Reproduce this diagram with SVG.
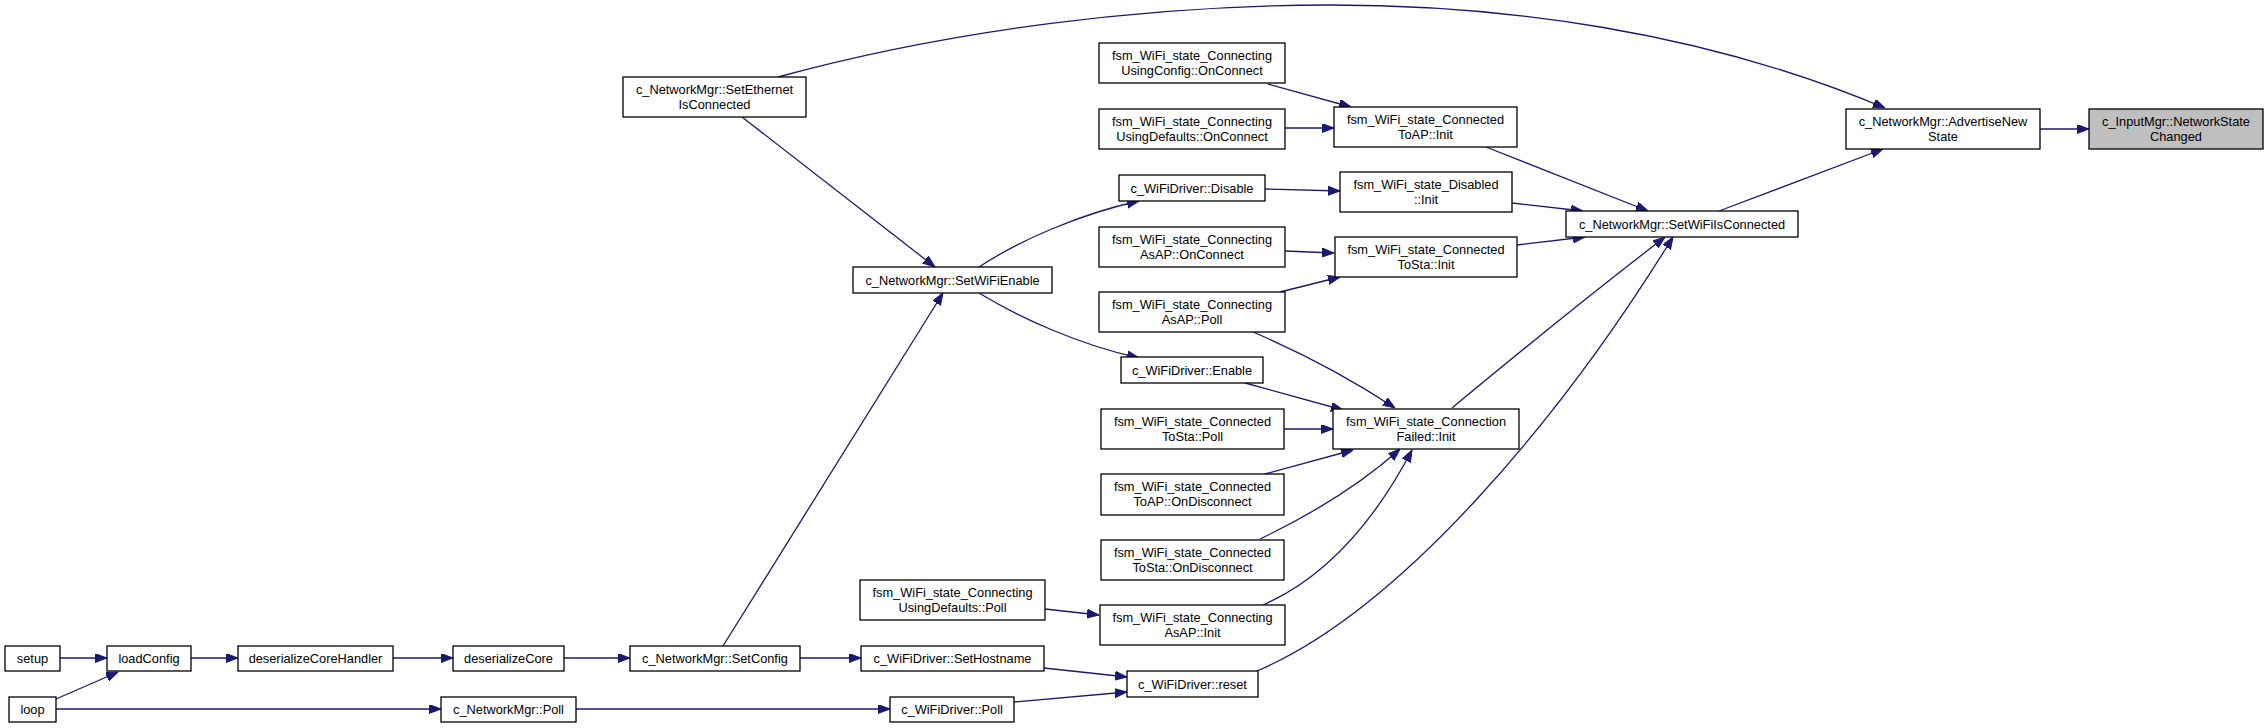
<svg xmlns="http://www.w3.org/2000/svg" width="2268" height="728" viewBox="0 0 2268 728">
<style>
.n rect{fill:#fff;stroke:#000;stroke-width:1.3}
.r rect{fill:#bfbfbf}
text{font-family:"Liberation Sans",Arial,Helvetica,sans-serif;font-size:12.8px;fill:#000;text-anchor:middle}
.e path{fill:none;stroke:#191970;stroke-width:1.3;marker-end:url(#ah)}
</style>
<defs>
<marker id="ah" markerWidth="12" markerHeight="10" refX="12" refY="4.5" orient="auto" markerUnits="userSpaceOnUse">
<path d="M0,0 L12,4.5 L0,9 z" fill="#191970" stroke="#191970" stroke-width="1"/>
</marker>
</defs>
<rect width="2268" height="728" fill="#fff"/>
<g id="edges" class="e">
<path d="M2040,129 L2089,129"/>
<path d="M778,77 C950,30 1150,5 1330,5 C1500,5 1700,30 1885,108"/>
<path d="M1719,211 L1883,149"/>
<path d="M1486,147 L1648,211"/>
<path d="M1512,203 L1583,211"/>
<path d="M1517,245 L1585,237"/>
<path d="M1452,408 Q1570,310 1665,237"/>
<path d="M1257,671 C1400,610 1560,420 1673,237"/>
<path d="M1268,84 L1351,107"/>
<path d="M1285,128 L1334,128"/>
<path d="M1265,189 L1340,191"/>
<path d="M1285,251 L1334,253"/>
<path d="M1280,292 L1340,277"/>
<path d="M1253,332 Q1330,365 1395,408"/>
<path d="M1245,383 L1343,410"/>
<path d="M1284,429 L1333,429"/>
<path d="M1265,474 L1353,450"/>
<path d="M1260,539 C1310,515 1360,485 1400,449"/>
<path d="M1263,605 C1320,580 1370,530 1412,450"/>
<path d="M1045,609 L1099,615"/>
<path d="M742,117 L935,267"/>
<path d="M979,267 C1020,240 1080,214 1139,201"/>
<path d="M979,293 C1020,318 1080,345 1139,358"/>
<path d="M723,646 L943,293"/>
<path d="M800,658 L861,658"/>
<path d="M1044,668 L1127,677"/>
<path d="M1014,702 L1127,692"/>
<path d="M576,709 L890,709"/>
<path d="M56,709 L441,709"/>
<path d="M56,699 L118,672"/>
<path d="M60,658 L107,658"/>
<path d="M191,658 L238,658"/>
<path d="M393,658 L453,658"/>
<path d="M564,658 L630,658"/>
</g>
<g id="n_root" class="n r"><rect x="2089" y="109" width="174" height="40"/><text x="2176" y="125.5">c_InputMgr::NetworkState</text><text x="2176" y="140.5">Changed</text></g>
<g id="n_advertise" class="n"><rect x="1846" y="109" width="194" height="40"/><text x="1943" y="125.5">c_NetworkMgr::AdvertiseNew</text><text x="1943" y="140.5">State</text></g>
<g id="n_setwifiisconnected" class="n"><rect x="1566" y="211" width="232" height="26"/><text x="1682" y="228.5">c_NetworkMgr::SetWiFiIsConnected</text></g>
<g id="n_setethernet" class="n"><rect x="623" y="77" width="183" height="40"/><text x="714.5" y="93.5">c_NetworkMgr::SetEthernet</text><text x="714.5" y="108.5">IsConnected</text></g>
<g id="n_usingconfig_onconnect" class="n"><rect x="1099" y="43" width="186" height="40"/><text x="1192" y="59.5">fsm_WiFi_state_Connecting</text><text x="1192" y="74.5">UsingConfig::OnConnect</text></g>
<g id="n_usingdefaults_onconnect" class="n"><rect x="1099" y="109" width="186" height="40"/><text x="1192" y="125.5">fsm_WiFi_state_Connecting</text><text x="1192" y="140.5">UsingDefaults::OnConnect</text></g>
<g id="n_toap_init" class="n"><rect x="1334" y="107" width="183" height="40"/><text x="1425.5" y="123.5">fsm_WiFi_state_Connected</text><text x="1425.5" y="138.5">ToAP::Init</text></g>
<g id="n_disabled_init" class="n"><rect x="1340" y="172" width="172" height="40"/><text x="1426" y="188.5">fsm_WiFi_state_Disabled</text><text x="1426" y="203.5">::Init</text></g>
<g id="n_disable" class="n"><rect x="1119" y="175" width="146" height="26"/><text x="1192" y="192.5">c_WiFiDriver::Disable</text></g>
<g id="n_asap_onconnect" class="n"><rect x="1099" y="227" width="186" height="40"/><text x="1192" y="243.5">fsm_WiFi_state_Connecting</text><text x="1192" y="258.5">AsAP::OnConnect</text></g>
<g id="n_tosta_init" class="n"><rect x="1335" y="237" width="182" height="40"/><text x="1426" y="253.5">fsm_WiFi_state_Connected</text><text x="1426" y="268.5">ToSta::Init</text></g>
<g id="n_setwifienable" class="n"><rect x="853" y="267" width="199" height="26"/><text x="952.5" y="284.5">c_NetworkMgr::SetWiFiEnable</text></g>
<g id="n_asap_poll" class="n"><rect x="1099" y="292" width="186" height="40"/><text x="1192" y="308.5">fsm_WiFi_state_Connecting</text><text x="1192" y="323.5">AsAP::Poll</text></g>
<g id="n_enable" class="n"><rect x="1121" y="357" width="142" height="26"/><text x="1192" y="374.5">c_WiFiDriver::Enable</text></g>
<g id="n_connfailed_init" class="n"><rect x="1333" y="409" width="186" height="40"/><text x="1426" y="425.5">fsm_WiFi_state_Connection</text><text x="1426" y="440.5">Failed::Init</text></g>
<g id="n_tosta_poll" class="n"><rect x="1101" y="409" width="183" height="40"/><text x="1192.5" y="425.5">fsm_WiFi_state_Connected</text><text x="1192.5" y="440.5">ToSta::Poll</text></g>
<g id="n_toap_ondisconnect" class="n"><rect x="1101" y="474" width="183" height="41"/><text x="1192.5" y="490.5">fsm_WiFi_state_Connected</text><text x="1192.5" y="505.5">ToAP::OnDisconnect</text></g>
<g id="n_tosta_ondisconnect" class="n"><rect x="1101" y="540" width="183" height="40"/><text x="1192.5" y="556.5">fsm_WiFi_state_Connected</text><text x="1192.5" y="571.5">ToSta::OnDisconnect</text></g>
<g id="n_usingdefaults_poll" class="n"><rect x="860" y="580" width="185" height="40"/><text x="952.5" y="596.5">fsm_WiFi_state_Connecting</text><text x="952.5" y="611.5">UsingDefaults::Poll</text></g>
<g id="n_asap_init" class="n"><rect x="1100" y="605" width="185" height="40"/><text x="1192.5" y="621.5">fsm_WiFi_state_Connecting</text><text x="1192.5" y="636.5">AsAP::Init</text></g>
<g id="n_sethostname" class="n"><rect x="861" y="646" width="183" height="25"/><text x="952.5" y="663">c_WiFiDriver::SetHostname</text></g>
<g id="n_reset" class="n"><rect x="1127" y="671" width="131" height="26"/><text x="1192.5" y="688.5">c_WiFiDriver::reset</text></g>
<g id="n_wifidriver_poll" class="n"><rect x="890" y="697" width="124" height="25"/><text x="952" y="714">c_WiFiDriver::Poll</text></g>
<g id="n_networkmgr_poll" class="n"><rect x="441" y="697" width="135" height="25"/><text x="508.5" y="714">c_NetworkMgr::Poll</text></g>
<g id="n_setconfig" class="n"><rect x="630" y="646" width="170" height="25"/><text x="715" y="663">c_NetworkMgr::SetConfig</text></g>
<g id="n_deserializecore" class="n"><rect x="453" y="646" width="111" height="25"/><text x="508.5" y="663">deserializeCore</text></g>
<g id="n_deserializecorehandler" class="n"><rect x="238" y="646" width="155" height="25"/><text x="315.5" y="663">deserializeCoreHandler</text></g>
<g id="n_loadconfig" class="n"><rect x="107" y="646" width="84" height="25"/><text x="149" y="663">loadConfig</text></g>
<g id="n_setup" class="n"><rect x="5" y="646" width="55" height="25"/><text x="32.5" y="663">setup</text></g>
<g id="n_loop" class="n"><rect x="9" y="697" width="47" height="25"/><text x="32.5" y="714">loop</text></g>
</svg>
